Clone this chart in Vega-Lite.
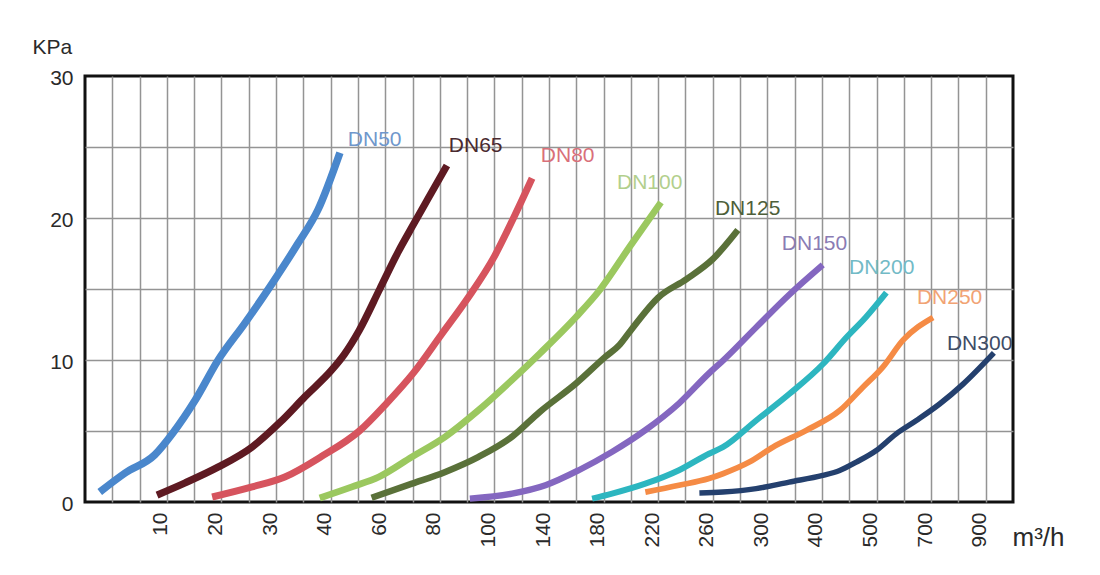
{
  "$schema": "https://vega.github.io/schema/vega-lite/v6.json",
  "width": 928,
  "height": 426,
  "autosize": "none",
  "padding": {"left": 85, "top": 76, "right": 87, "bottom": 73},
  "background": "#ffffff",
  "config": {
    "view": {"stroke": "#111111", "strokeWidth": 3},
    "font": "Liberation Sans"
  },
  "datasets": {
    "curves": [
      {"series": "DN50", "flow": 1.8, "kPa": 0.7},
      {"series": "DN50", "flow": 4.9, "kPa": 2.04},
      {"series": "DN50", "flow": 8.5, "kPa": 3.31},
      {"series": "DN50", "flow": 11.1, "kPa": 4.86},
      {"series": "DN50", "flow": 15.2, "kPa": 7.18},
      {"series": "DN50", "flow": 19.4, "kPa": 10.0},
      {"series": "DN50", "flow": 24.3, "kPa": 12.6},
      {"series": "DN50", "flow": 29.3, "kPa": 15.4},
      {"series": "DN50", "flow": 34.0, "kPa": 18.2},
      {"series": "DN50", "flow": 37.7, "kPa": 20.6},
      {"series": "DN50", "flow": 43.4, "kPa": 24.6},
      {"series": "DN65", "flow": 8.8, "kPa": 0.49},
      {"series": "DN65", "flow": 13.3, "kPa": 1.34},
      {"series": "DN65", "flow": 19.4, "kPa": 2.46},
      {"series": "DN65", "flow": 25.6, "kPa": 3.87},
      {"series": "DN65", "flow": 30.7, "kPa": 5.6},
      {"series": "DN65", "flow": 35.3, "kPa": 7.42},
      {"series": "DN65", "flow": 40.4, "kPa": 9.3},
      {"series": "DN65", "flow": 45.0, "kPa": 10.4},
      {"series": "DN65", "flow": 50.5, "kPa": 12.1},
      {"series": "DN65", "flow": 58.0, "kPa": 15.0},
      {"series": "DN65", "flow": 64.7, "kPa": 17.6},
      {"series": "DN65", "flow": 70.2, "kPa": 19.5},
      {"series": "DN65", "flow": 75.5, "kPa": 21.3},
      {"series": "DN65", "flow": 82.6, "kPa": 23.7},
      {"series": "DN80", "flow": 18.3, "kPa": 0.35},
      {"series": "DN80", "flow": 25.6, "kPa": 1.06},
      {"series": "DN80", "flow": 31.6, "kPa": 1.76},
      {"series": "DN80", "flow": 38.3, "kPa": 3.2},
      {"series": "DN80", "flow": 50.5, "kPa": 5.0},
      {"series": "DN80", "flow": 60.5, "kPa": 6.95},
      {"series": "DN80", "flow": 70.2, "kPa": 9.06},
      {"series": "DN80", "flow": 80.6, "kPa": 11.8},
      {"series": "DN80", "flow": 90.4, "kPa": 14.4},
      {"series": "DN80", "flow": 100.0, "kPa": 17.3},
      {"series": "DN80", "flow": 114.0, "kPa": 20.0},
      {"series": "DN80", "flow": 127.6, "kPa": 22.8},
      {"series": "DN100", "flow": 38.0, "kPa": 0.28},
      {"series": "DN100", "flow": 47.8, "kPa": 1.06},
      {"series": "DN100", "flow": 57.6, "kPa": 1.76},
      {"series": "DN100", "flow": 69.8, "kPa": 3.18},
      {"series": "DN100", "flow": 82.0, "kPa": 4.6},
      {"series": "DN100", "flow": 94.2, "kPa": 6.47},
      {"series": "DN100", "flow": 113.0, "kPa": 8.6},
      {"series": "DN100", "flow": 133.4, "kPa": 10.47},
      {"series": "DN100", "flow": 160.0, "kPa": 13.05},
      {"series": "DN100", "flow": 177.2, "kPa": 14.93},
      {"series": "DN100", "flow": 200.0, "kPa": 18.1},
      {"series": "DN100", "flow": 222.0, "kPa": 21.1},
      {"series": "DN125", "flow": 55.0, "kPa": 0.3},
      {"series": "DN125", "flow": 69.8, "kPa": 1.29},
      {"series": "DN125", "flow": 82.0, "kPa": 2.12},
      {"series": "DN125", "flow": 94.2, "kPa": 3.18},
      {"series": "DN125", "flow": 113.0, "kPa": 4.6},
      {"series": "DN125", "flow": 133.4, "kPa": 6.36},
      {"series": "DN125", "flow": 160.0, "kPa": 8.36},
      {"series": "DN125", "flow": 181.0, "kPa": 10.2},
      {"series": "DN125", "flow": 192.0, "kPa": 11.1},
      {"series": "DN125", "flow": 200.0, "kPa": 12.1},
      {"series": "DN125", "flow": 220.0, "kPa": 14.4},
      {"series": "DN125", "flow": 240.8, "kPa": 15.7},
      {"series": "DN125", "flow": 260.0, "kPa": 17.1},
      {"series": "DN125", "flow": 278.4, "kPa": 19.15},
      {"series": "DN150", "flow": 91.0, "kPa": 0.24},
      {"series": "DN150", "flow": 113.0, "kPa": 0.59},
      {"series": "DN150", "flow": 137.4, "kPa": 1.18},
      {"series": "DN150", "flow": 161.8, "kPa": 2.24},
      {"series": "DN150", "flow": 186.2, "kPa": 3.53},
      {"series": "DN150", "flow": 210.6, "kPa": 5.06},
      {"series": "DN150", "flow": 235.2, "kPa": 6.94},
      {"series": "DN150", "flow": 257.2, "kPa": 9.06},
      {"series": "DN150", "flow": 267.4, "kPa": 9.95},
      {"series": "DN150", "flow": 291.8, "kPa": 12.3},
      {"series": "DN150", "flow": 340.0, "kPa": 14.6},
      {"series": "DN150", "flow": 401.5, "kPa": 16.7},
      {"series": "DN200", "flow": 171.6, "kPa": 0.24},
      {"series": "DN200", "flow": 186.2, "kPa": 0.59},
      {"series": "DN200", "flow": 210.6, "kPa": 1.29},
      {"series": "DN200", "flow": 235.2, "kPa": 2.24},
      {"series": "DN200", "flow": 257.2, "kPa": 3.4},
      {"series": "DN200", "flow": 267.4, "kPa": 3.86},
      {"series": "DN200", "flow": 291.8, "kPa": 5.74},
      {"series": "DN200", "flow": 340.0, "kPa": 7.6},
      {"series": "DN200", "flow": 401.5, "kPa": 9.7},
      {"series": "DN200", "flow": 445.0, "kPa": 11.6},
      {"series": "DN200", "flow": 480.0, "kPa": 13.0},
      {"series": "DN200", "flow": 536.0, "kPa": 14.75},
      {"series": "DN250", "flow": 210.6, "kPa": 0.7},
      {"series": "DN250", "flow": 235.2, "kPa": 1.18},
      {"series": "DN250", "flow": 257.2, "kPa": 1.65},
      {"series": "DN250", "flow": 267.4, "kPa": 1.99},
      {"series": "DN250", "flow": 286.8, "kPa": 2.81},
      {"series": "DN250", "flow": 310.0, "kPa": 3.86},
      {"series": "DN250", "flow": 371.0, "kPa": 5.04},
      {"series": "DN250", "flow": 432.5, "kPa": 6.44},
      {"series": "DN250", "flow": 475.0, "kPa": 8.08},
      {"series": "DN250", "flow": 523.0, "kPa": 9.5},
      {"series": "DN250", "flow": 597.0, "kPa": 11.4},
      {"series": "DN250", "flow": 707.0, "kPa": 13.0},
      {"series": "DN300", "flow": 250.2, "kPa": 0.63},
      {"series": "DN300", "flow": 267.4, "kPa": 0.7},
      {"series": "DN300", "flow": 291.8, "kPa": 0.94},
      {"series": "DN300", "flow": 340.0, "kPa": 1.4},
      {"series": "DN300", "flow": 401.5, "kPa": 1.87},
      {"series": "DN300", "flow": 432.5, "kPa": 2.22},
      {"series": "DN300", "flow": 463.0, "kPa": 2.81},
      {"series": "DN300", "flow": 499.5, "kPa": 3.63},
      {"series": "DN300", "flow": 572.0, "kPa": 4.8},
      {"series": "DN300", "flow": 646.0, "kPa": 5.74},
      {"series": "DN300", "flow": 731.0, "kPa": 6.9},
      {"series": "DN300", "flow": 817.0, "kPa": 8.3},
      {"series": "DN300", "flow": 930.0, "kPa": 10.5}
    ],
    "labels": [
      {"series": "DN50", "flow": 46.3, "kPa": 25.5},
      {"series": "DN65", "flow": 83.3, "kPa": 25.1},
      {"series": "DN80", "flow": 134.0, "kPa": 24.4},
      {"series": "DN100", "flow": 189.8, "kPa": 22.5},
      {"series": "DN125", "flow": 261.6, "kPa": 20.6},
      {"series": "DN150", "flow": 326.5, "kPa": 18.2},
      {"series": "DN200", "flow": 449.5, "kPa": 16.5},
      {"series": "DN250", "flow": 648.0, "kPa": 14.4},
      {"series": "DN300", "flow": 758.0, "kPa": 11.1}
    ]
  },
  "encoding": {
    "x": {
      "field": "flow",
      "type": "quantitative",
      "scale": {
        "domain": [0, 10, 20, 30, 40, 60, 80, 100, 140, 180, 220, 260, 300, 400, 500, 700, 900, 1000],
        "range": [0, 81.88, 136.47, 191.06, 245.65, 300.24, 354.82, 409.41, 464.0, 518.59, 573.18, 627.76, 682.35, 736.94, 791.53, 846.12, 900.71, 928],
        "nice": false,
        "zero": false
      },
      "axis": {
        "values": [0, 3.3333, 6.6667, 10, 15, 20, 25, 30, 35, 40, 50, 60, 70, 80, 90, 100, 120, 140, 160, 180, 200, 220, 240, 260, 280, 300, 350, 400, 450, 500, 600, 700, 800, 900, 1000],
        "labelExpr": "indexof([10,20,30,40,60,80,100,140,180,220,260,300,400,500,700,900], datum.value) >= 0 ? datum.value : ''",
        "grid": true,
        "gridColor": "#949494",
        "gridWidth": 1.5,
        "gridOpacity": {"condition": {"test": "datum.value == 0 || datum.value == 1000", "value": 0}, "value": 1},
        "ticks": false,
        "tickSize": 0,
        "domain": false,
        "labelAngle": -90,
        "labelAlign": "right",
        "labelBaseline": "alphabetic",
        "labelPadding": 10,
        "labelFontSize": 21,
        "labelColor": "#2a2a2a",
        "labelOverlap": false,
        "labelFlush": false,
        "title": "m³/h",
        "titleFontSize": 26,
        "titleFontWeight": "normal",
        "titleColor": "#2a2a2a",
        "titleAngle": 0,
        "titleAlign": "left",
        "titleBaseline": "middle",
        "titleX": 927,
        "titleY": 35
      }
    },
    "y": {
      "field": "kPa",
      "type": "quantitative",
      "scale": {"domain": [0, 30], "nice": false},
      "axis": {
        "values": [0, 5, 10, 15, 20, 25, 30],
        "labelExpr": "datum.value % 10 == 0 ? datum.value : ''",
        "grid": true,
        "gridColor": "#949494",
        "gridWidth": 1.5,
        "gridOpacity": {"condition": {"test": "datum.value == 0 || datum.value == 30", "value": 0}, "value": 1},
        "ticks": false,
        "tickSize": 0,
        "domain": false,
        "labelPadding": 12,
        "labelOffset": 2,
        "labelFontSize": 21,
        "labelColor": "#2a2a2a",
        "labelOverlap": false,
        "labelFlush": false,
        "title": "KPa",
        "titleFontSize": 21,
        "titleFontWeight": "normal",
        "titleColor": "#2a2a2a",
        "titleAngle": 0,
        "titleAlign": "left",
        "titleBaseline": "middle",
        "titleX": -53,
        "titleY": -29
      }
    }
  },
  "layer": [
    {
      "data": {"name": "curves"},
      "mark": {"type": "line", "interpolate": "monotone", "strokeCap": "butt", "strokeJoin": "round"},
      "encoding": {
        "color": {
          "field": "series",
          "type": "nominal",
          "scale": {
            "domain": ["DN50", "DN65", "DN80", "DN100", "DN125", "DN150", "DN200", "DN250", "DN300"],
            "range": ["#4a87cc", "#5e1a22", "#d6545e", "#9bc85f", "#5a7139", "#8467c0", "#2db6c0", "#f58b45", "#24406e"]
          },
          "legend": null
        },
        "strokeWidth": {
          "field": "series",
          "type": "nominal",
          "scale": {
            "domain": ["DN50", "DN65", "DN80", "DN100", "DN125", "DN150", "DN200", "DN250", "DN300"],
            "range": [7.5, 5.5, 5, 5, 5, 5, 5, 5, 5.5]
          },
          "legend": null
        }
      }
    },
    {
      "data": {"name": "labels"},
      "mark": {"type": "text", "align": "left", "baseline": "middle", "fontSize": 21},
      "encoding": {
        "text": {"field": "series", "type": "nominal"},
        "color": {
          "field": "series",
          "type": "nominal",
          "scale": {
            "domain": ["DN50", "DN65", "DN80", "DN100", "DN125", "DN150", "DN200", "DN250", "DN300"],
            "range": ["#6f97cc", "#4a2a30", "#d9707a", "#b2cf8c", "#4e5f3a", "#8a7cb4", "#72bac6", "#f1a374", "#3e4c66"]
          },
          "legend": null
        }
      }
    }
  ],
  "resolve": {"scale": {"color": "independent"}}
}
